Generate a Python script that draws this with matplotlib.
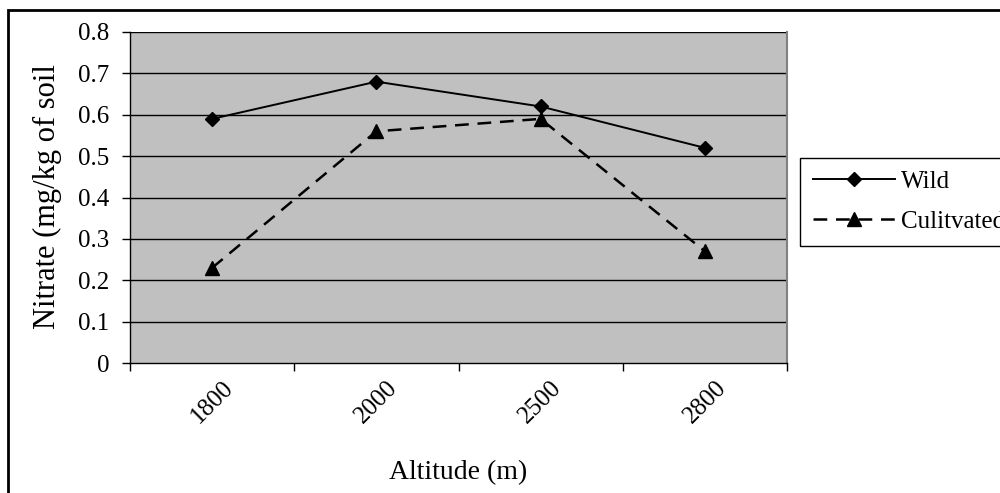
import numpy as np
import matplotlib.pyplot as plt
from matplotlib.patches import Rectangle

plt.rcParams['font.family'] = ['Liberation Serif', 'DejaVu Serif']

altitudes = ['1800', '2000', '2500', '2800']
wild = [0.59, 0.68, 0.62, 0.52]
cultivated = [0.23, 0.56, 0.59, 0.27]
yticks = [0, 0.1, 0.2, 0.3, 0.4, 0.5, 0.6, 0.7, 0.8]
ytick_labels = ['0', '0.1', '0.2', '0.3', '0.4', '0.5', '0.6', '0.7', '0.8']

W, H = 1000, 493
fig = plt.figure(figsize=(W/100, H/100), dpi=100)
# plot area in pixels: x 130..787, y 32..363
ax = fig.add_axes([130/W, 1 - 363/H, (787 - 130)/W, (363 - 32)/H])

x = np.arange(len(altitudes))

ax.set_facecolor('#c0c0c0')
for v in yticks[1:]:
    ax.axhline(v, color='black', lw=1, zorder=1)

ax.plot(x, wild, color='black', lw=1.4, marker='D', ms=7.5, label='Wild', zorder=3)
ax.plot(x, cultivated, color='black', lw=1.8, ls=(0, (5.5, 3.5)), marker='^', ms=9.5,
        label='Culitvated', zorder=3)

ax.set_xlim(-0.5, len(altitudes) - 0.5)
ax.set_ylim(0, 0.8)
ax.set_yticks(yticks)
ax.set_yticklabels(ytick_labels, fontsize=18)

# category axis: ticks between categories, labels centred on each category
ax.set_xticks(np.arange(len(altitudes) + 1) - 0.5)
ax.set_xticklabels([])
ax.set_xticks(x, minor=True)
ax.set_xticklabels(altitudes, minor=True, rotation=45, ha='center', va='center',
                   rotation_mode='anchor', fontsize=18)
ax.tick_params(axis='x', which='minor', length=0, pad=28)
ax.tick_params(axis='x', which='major', direction='out', length=6, width=1)
ax.tick_params(axis='y', direction='out', length=6, width=1, pad=9)

ax.spines['top'].set_visible(False)
ax.spines['right'].set_color('#808080')
ax.spines['right'].set_linewidth(1.5)
ax.spines['left'].set_linewidth(1)
ax.spines['bottom'].set_linewidth(1)

ax.set_xlabel('Altitude (m)', fontsize=20)
ax.xaxis.set_label_coords(0.5, -(460 - 363) / (363 - 32))
ax.set_ylabel('Nitrate (mg/kg of soil', fontsize=22)
ax.yaxis.set_label_coords(-(130 - 62) / (787 - 130), (363 - 197) / (363 - 32))

leg = fig.legend(loc='upper left', bbox_to_anchor=(800/W, 1 - 158/H), fontsize=18,
                 frameon=True, fancybox=False, edgecolor='black', framealpha=1,
                 handlelength=3.3, handletextpad=0.25, borderpad=0.5,
                 borderaxespad=0, labelspacing=0.7)
leg.get_frame().set_linewidth(1)

fig.patches.append(Rectangle((8/W, -0.1), 1.1, 1.1 - 10/H, transform=fig.transFigure,
                             fill=False, edgecolor='black', lw=2))

fig.savefig('out.png', dpi=100)
